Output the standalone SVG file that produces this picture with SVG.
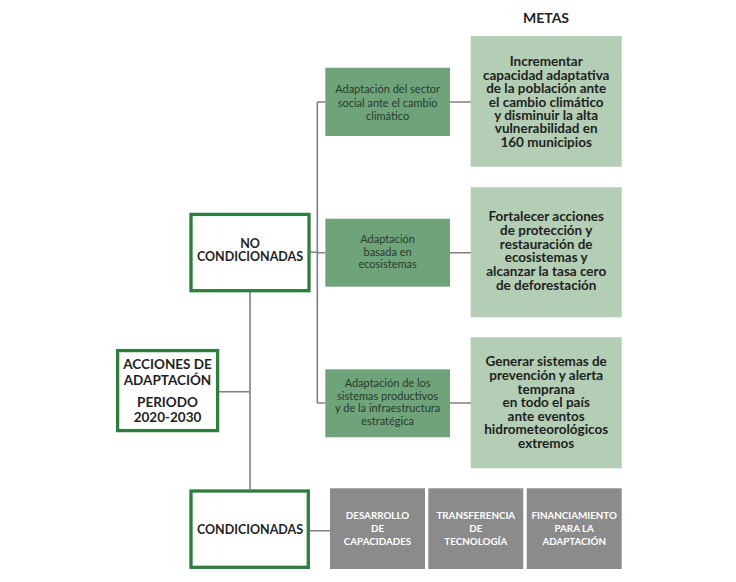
<svg xmlns="http://www.w3.org/2000/svg" width="736" height="582" viewBox="0 0 736 582">
<style>
.frame{fill:#fff;stroke:#2f7d3f;stroke-width:3.3}
.act{fill:#6fa47b}
.meta{fill:#b3ceb4}
.gray{fill:#8b8b8b}
.ln{stroke:#808080;stroke-width:1.6;fill:none}
text{font-family:Lato,"Open Sans","Liberation Sans",sans-serif;text-anchor:middle}
.b{font-weight:bold;fill:#1f1f1f}
.mt{font-size:13.5px;font-weight:bold;fill:#1f1f1f}
.at{font-size:11px;fill:#2a3a2c}
.gt{font-size:9.8px;font-weight:bold;fill:#fff}
</style>
<rect width="736" height="582" fill="#fff"/>
<g id="connectors">
<path class="ln" d="M250 292 V489 M219 391.7 H250 M310 252.3 H317.3 M317.3 102 V403 M317.3 102 H325 M317.3 252.7 H325 M317.3 403 H325 M450 102 H471 M450 252.7 H471 M450 403 H471 M310 530.7 H330"/>
</g>
<text class="b" x="546" y="23" font-size="14">METAS</text>
<g id="acciones">
<rect class="frame" x="117.6" y="350.6" width="100" height="80"/>
<text class="b" font-size="13.5"><tspan x="167.5" y="369.3">ACCIONES DE</tspan><tspan x="167.5" y="384.8">ADAPTACIÓN</tspan><tspan x="167.5" y="406.6">PERIODO</tspan><tspan x="167.5" y="422.2">2020-2030</tspan></text>
</g>
<g id="no-condicionadas">
<rect class="frame" x="191" y="214.4" width="118" height="76.3"/>
<text class="b" font-size="12.5"><tspan x="250" y="247.8">NO</tspan><tspan x="250" y="261.2">CONDICIONADAS</tspan></text>
</g>
<g id="condicionadas">
<rect class="frame" x="191" y="491" width="117.3" height="76.3"/>
<text class="b" font-size="12.5" x="250" y="533.8">CONDICIONADAS</text>
</g>
<g id="adapt-social">
<rect class="act" x="325.3" y="67.7" width="124.7" height="68.3"/>
<text class="at"><tspan x="387.6" y="93.3">Adaptación del sector</tspan><tspan x="387.6" y="106.7">social ante el cambio</tspan><tspan x="387.6" y="120.3">climático</tspan></text>
</g>
<g id="adapt-eco">
<rect class="act" x="325.3" y="218.7" width="124.7" height="68"/>
<text class="at"><tspan x="387.6" y="243">Adaptación</tspan><tspan x="387.6" y="255.6">basada en</tspan><tspan x="387.6" y="268">ecosistemas</tspan></text>
</g>
<g id="adapt-sist">
<rect class="act" x="325.3" y="369.3" width="124.7" height="68"/>
<text class="at"><tspan x="387.6" y="387.3">Adaptación de los</tspan><tspan x="387.6" y="399.7">sistemas productivos</tspan><tspan x="387.6" y="412.3">y de la infraestructura</tspan><tspan x="387.6" y="424.7">estratégica</tspan></text>
</g>
<g id="meta-1">
<rect class="meta" x="470.7" y="36" width="151" height="130.7"/>
<text class="mt"><tspan x="546.2" y="66.4">Incrementar</tspan><tspan x="546.2" y="79.8">capacidad adaptativa</tspan><tspan x="546.2" y="93.2">de la población ante</tspan><tspan x="546.2" y="106.6">el cambio climático</tspan><tspan x="546.2" y="120">y disminuir la alta</tspan><tspan x="546.2" y="133.4">vulnerabilidad en</tspan><tspan x="546.2" y="146.8">160 municipios</tspan></text>
</g>
<g id="meta-2">
<rect class="meta" x="470.7" y="187.3" width="151" height="130"/>
<text class="mt"><tspan x="546.2" y="221.4">Fortalecer acciones</tspan><tspan x="546.2" y="235.1">de protección y</tspan><tspan x="546.2" y="248.7">restauración de</tspan><tspan x="546.2" y="262.4">ecosistemas y</tspan><tspan x="546.2" y="276">alcanzar la tasa cero</tspan><tspan x="546.2" y="289.7">de deforestación</tspan></text>
</g>
<g id="meta-3">
<rect class="meta" x="470.7" y="337.3" width="151" height="131"/>
<text class="mt"><tspan x="546.2" y="366.4">Generar sistemas de</tspan><tspan x="546.2" y="380">prevención y alerta</tspan><tspan x="546.2" y="393.6">temprana</tspan><tspan x="546.2" y="407.2">en todo el país</tspan><tspan x="546.2" y="420.8">ante eventos</tspan><tspan x="546.2" y="434.4">hidrometeorológicos</tspan><tspan x="546.2" y="448">extremos</tspan></text>
</g>
<g id="desarrollo">
<rect class="gray" x="330" y="488.3" width="95" height="80.7"/>
<text class="gt"><tspan x="377.5" y="519.3">DESARROLLO</tspan><tspan x="377.5" y="532">DE</tspan><tspan x="377.5" y="544.5">CAPACIDADES</tspan></text>
</g>
<g id="transferencia">
<rect class="gray" x="428.3" y="488.3" width="95" height="80.7"/>
<text class="gt"><tspan x="475.8" y="519.3">TRANSFERENCIA</tspan><tspan x="475.8" y="532">DE</tspan><tspan x="475.8" y="544.5">TECNOLOGÍA</tspan></text>
</g>
<g id="financiamiento">
<rect class="gray" x="526.7" y="488.3" width="95" height="80.7"/>
<text class="gt"><tspan x="574.2" y="519.3">FINANCIAMIENTO</tspan><tspan x="574.2" y="532">PARA LA</tspan><tspan x="574.2" y="544.5">ADAPTACIÓN</tspan></text>
</g>
</svg>
